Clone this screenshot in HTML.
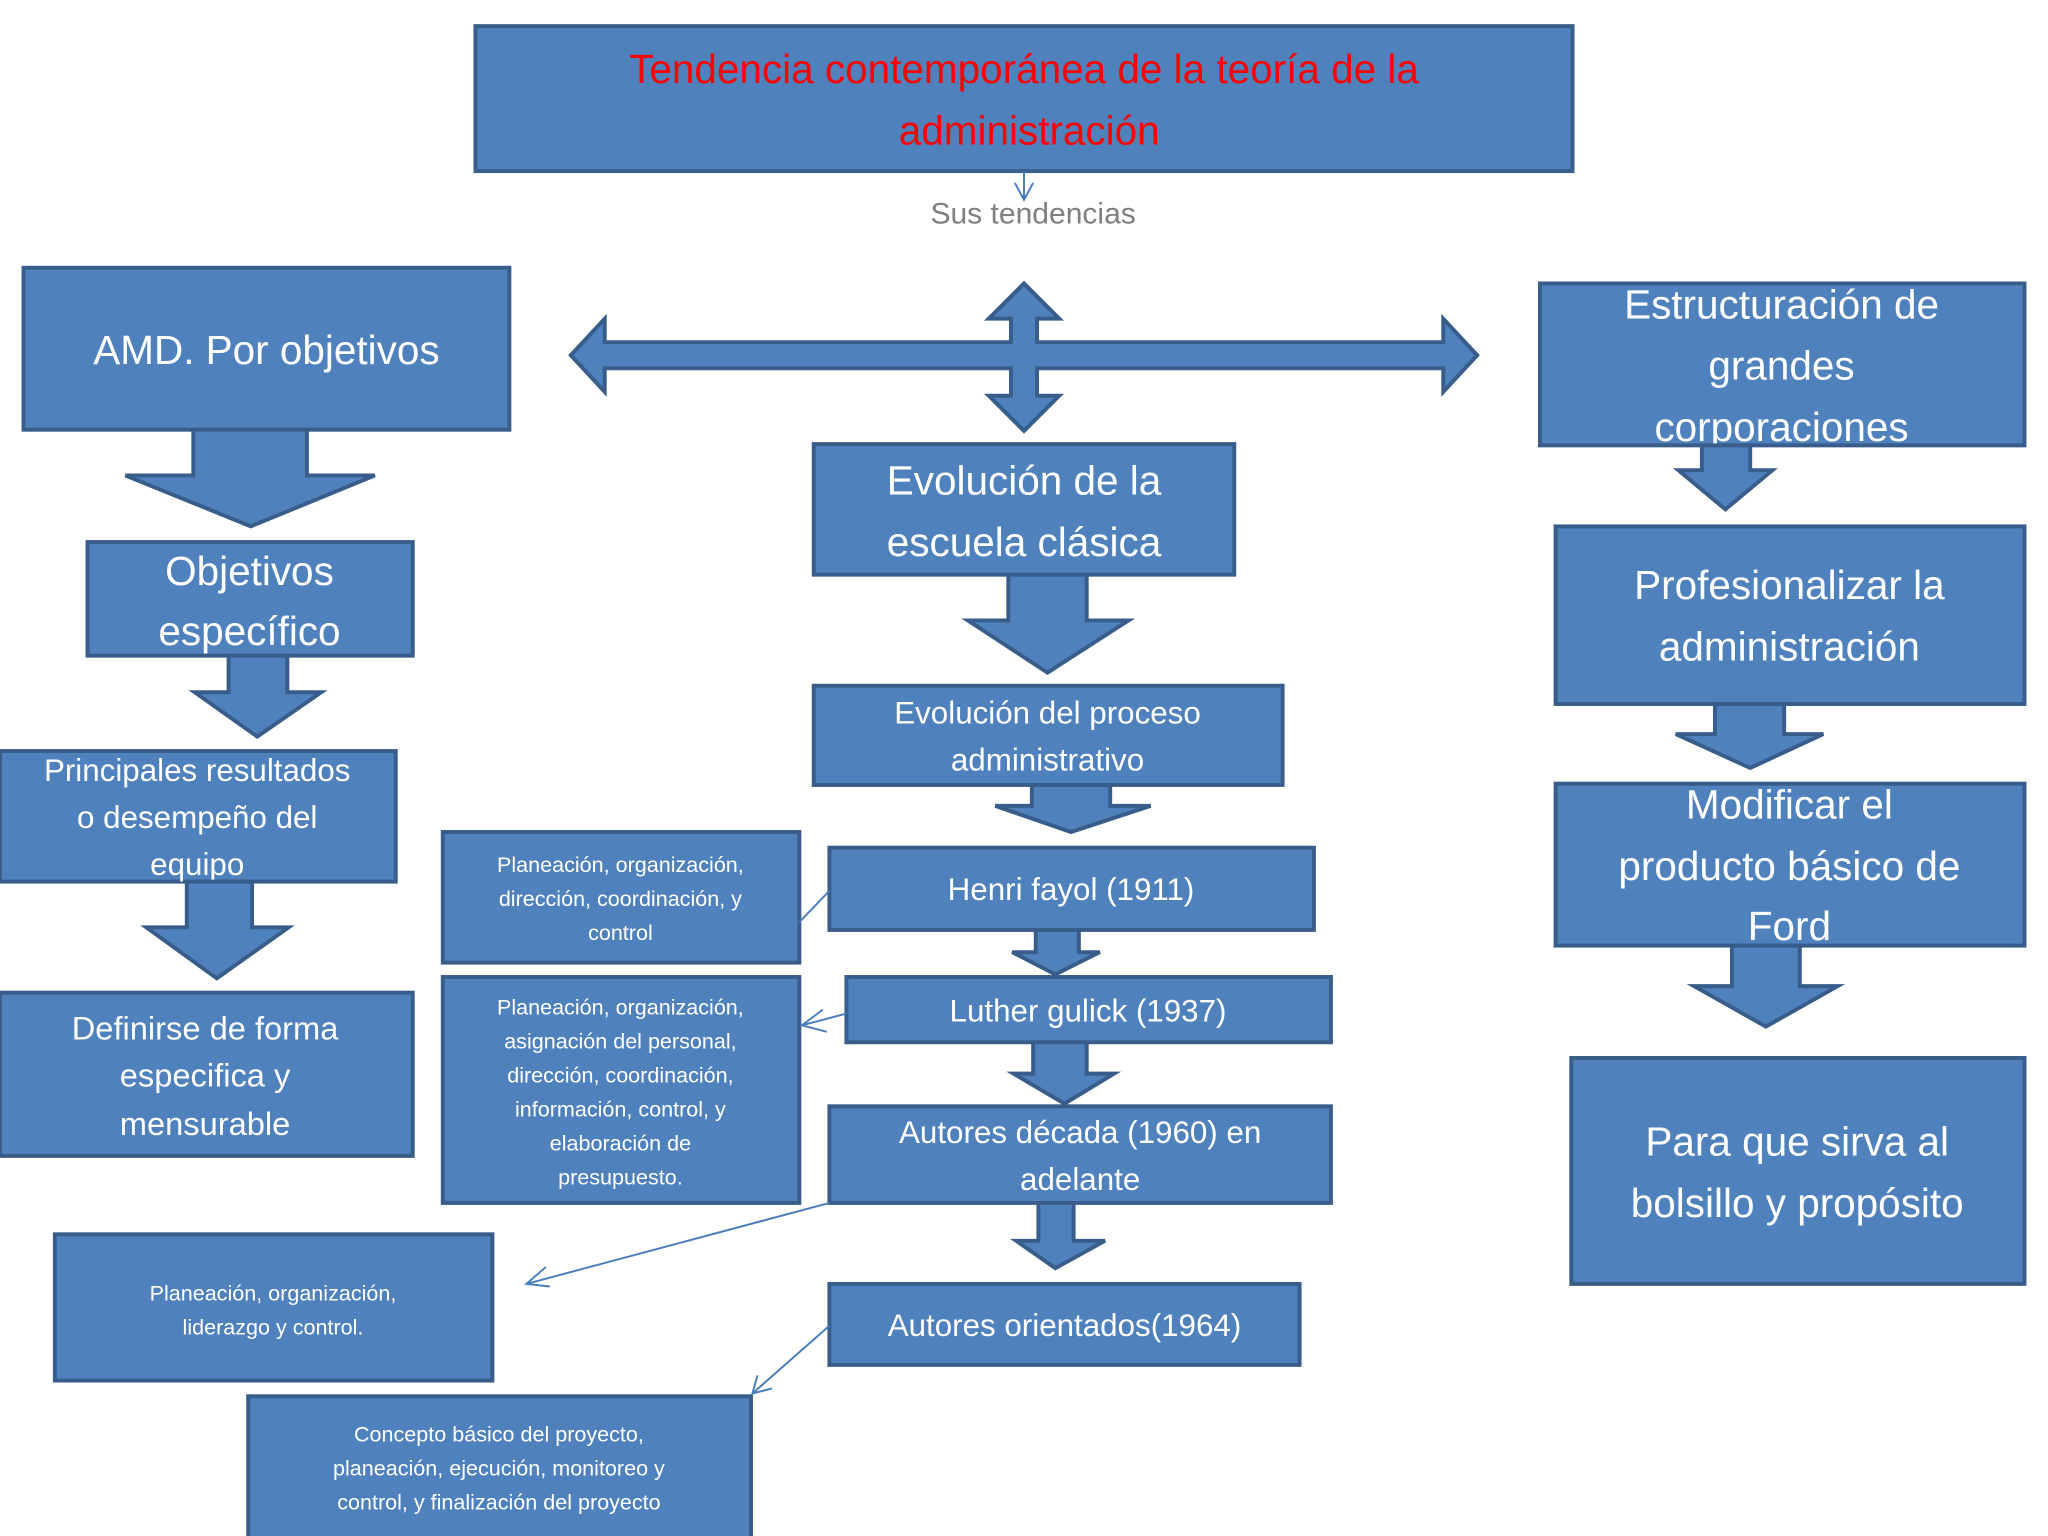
<!DOCTYPE html>
<html><head><meta charset="utf-8"><style>
html,body{margin:0;padding:0;background:#fff;width:2048px;height:1536px;overflow:hidden}
svg{display:block}
text{font-family:"Liberation Sans",sans-serif;fill:#fff;text-anchor:middle;dominant-baseline:central}
.b{fill:#4F81BD;stroke:#385D8A;stroke-width:3}
.l{stroke:#4A7EBB;stroke-width:1.5;fill:none}
</style></head><body>
<svg width="2048" height="1536" viewBox="0 0 1568 1176" xmlns="http://www.w3.org/2000/svg">
<rect width="1568" height="1176" fill="#fff"/>
<!-- title -->
<rect class="b" x="364" y="20" width="840" height="111"/>
<text x="784" y="53" font-size="31" style="fill:#FF0000">Tendencia contemporánea de la teoría de la</text>
<text x="788" y="100" font-size="31" style="fill:#FF0000">administración</text>
<path class="l" d="M784 131 V153 M777 140 L784 153 L791 140"/>
<text x="791" y="164" font-size="23" style="fill:#7F7F7F">Sus tendencias</text>
<!-- cross arrow -->
<polygon class="b" points="437,272 463,244 463,262 774,262 774,244 757,244 784,217 811,244 794,244 794,262 1105,262 1105,244 1131,272 1105,300 1105,282 794,282 794,303 811,303 784,330 757,303 774,303 774,282 463,282 463,300"/>
<!-- left column -->
<rect class="b" x="18" y="205" width="372" height="124"/>
<text x="204" y="268" font-size="31">AMD. Por  objetivos</text>
<polygon class="b" points="148,329 235,329 235,364 287,364 192,403 96,364 148,364"/>
<rect class="b" x="67" y="415" width="249" height="87"/>
<text x="191" y="437" font-size="31">Objetivos</text>
<text x="191" y="483" font-size="31">específico</text>
<polygon class="b" points="175,502 220,502 220,530 246,530 197,564 149,530 175,530"/>
<rect class="b" x="0" y="575" width="303" height="100"/>
<text x="151" y="590" font-size="24">Principales resultados</text>
<text x="151" y="626" font-size="24">o desempeño del</text>
<text x="151" y="662" font-size="24">equipo</text>
<polygon class="b" points="143,675 193,675 193,710 221,710 166,749 112,710 143,710"/>
<rect class="b" x="0" y="760" width="316" height="125"/>
<text x="157" y="787" font-size="25">Definirse de forma</text>
<text x="157" y="823" font-size="25">especifica y</text>
<text x="157" y="860" font-size="25">mensurable</text>
<rect class="b" x="339" y="637" width="273" height="100"/>
<text x="475" y="662" font-size="16.5">Planeación, organización,</text>
<text x="475" y="688" font-size="16.5">dirección, coordinación, y</text>
<text x="475" y="714" font-size="16.5">control</text>
<rect class="b" x="339" y="748" width="273" height="173"/>
<text x="475" y="771" font-size="16.5">Planeación, organización,</text>
<text x="475" y="797" font-size="16.5">asignación del personal,</text>
<text x="475" y="823" font-size="16.5">dirección, coordinación,</text>
<text x="475" y="849" font-size="16.5">información, control, y</text>
<text x="475" y="875" font-size="16.5">elaboración de</text>
<text x="475" y="901" font-size="16.5">presupuesto.</text>
<rect class="b" x="42" y="945" width="335" height="112"/>
<text x="209" y="990" font-size="16.5">Planeación, organización,</text>
<text x="209" y="1016" font-size="16.5">liderazgo y control.</text>
<rect class="b" x="190" y="1069" width="385" height="110"/>
<text x="382" y="1098" font-size="16.5">Concepto básico del proyecto,</text>
<text x="382" y="1124" font-size="16.5">planeación, ejecución, monitoreo y</text>
<text x="382" y="1150" font-size="16.5">control, y finalización del proyecto</text>
<!-- center column -->
<rect class="b" x="623" y="340" width="322" height="100"/>
<text x="784" y="368" font-size="31">Evolución de la</text>
<text x="784" y="415" font-size="31">escuela clásica</text>
<polygon class="b" points="772,440 832,440 832,475 864,475 802,515 741,475 772,475"/>
<rect class="b" x="623" y="525" width="359" height="76"/>
<text x="802" y="546" font-size="24">Evolución del proceso</text>
<text x="802" y="582" font-size="24">administrativo</text>
<polygon class="b" points="790,601 850,601 850,617 881,617 820,637 762,617 790,617"/>
<rect class="b" x="635" y="649" width="371" height="63"/>
<text x="820" y="681" font-size="24">Henri fayol (1911)</text>
<polygon class="b" points="793,712 826,712 826,729 842,729 808,746 775,729 793,729"/>
<rect class="b" x="648" y="748" width="371" height="50"/>
<text x="833" y="774" font-size="24">Luther gulick (1937)</text>
<polygon class="b" points="791,798 832,798 832,822 853,822 815,845 776,822 791,822"/>
<rect class="b" x="635" y="847" width="384" height="74"/>
<text x="827" y="867" font-size="24">Autores década  (1960) en</text>
<text x="827" y="903" font-size="24">adelante</text>
<polygon class="b" points="795,921 822,921 822,950 846,950 808,971 778,950 795,950"/>
<rect class="b" x="635" y="983" width="360" height="62"/>
<text x="815" y="1015" font-size="24">Autores orientados(1964)</text>
<!-- connectors -->
<path class="l" d="M635 682 L612 706"/>
<path class="l" d="M648 776 L614 785 M630 773 L614 785 L633 790"/>
<path class="l" d="M635 921 L403 983 M418 970 L403 983 L421 985"/>
<path class="l" d="M635 1015 L576 1067 M580 1053 L576 1067 L591 1063"/>
<!-- right column -->
<rect class="b" x="1179" y="217" width="371" height="124"/>
<text x="1364" y="233" font-size="31">Estructuración de</text>
<text x="1364" y="280" font-size="31">grandes</text>
<text x="1364" y="327" font-size="31">corporaciones</text>
<polygon class="b" points="1303,341 1340,341 1340,360 1357,360 1321,390 1285,360 1303,360"/>
<rect class="b" x="1191" y="403" width="359" height="136"/>
<text x="1370" y="448" font-size="31">Profesionalizar la</text>
<text x="1370" y="495" font-size="31">administración</text>
<polygon class="b" points="1313,539 1366,539 1366,562 1396,562 1340,588 1283,562 1313,562"/>
<rect class="b" x="1191" y="600" width="359" height="124"/>
<text x="1370" y="616" font-size="31">Modificar el</text>
<text x="1370" y="663" font-size="31">producto básico de</text>
<text x="1370" y="709" font-size="31">Ford</text>
<polygon class="b" points="1326,724 1378,724 1378,755 1407,755 1352,786 1297,755 1326,755"/>
<rect class="b" x="1203" y="810" width="347" height="173"/>
<text x="1376" y="874" font-size="31">Para que sirva al</text>
<text x="1376" y="921" font-size="31">bolsillo y propósito</text>
</svg>
</body></html>
